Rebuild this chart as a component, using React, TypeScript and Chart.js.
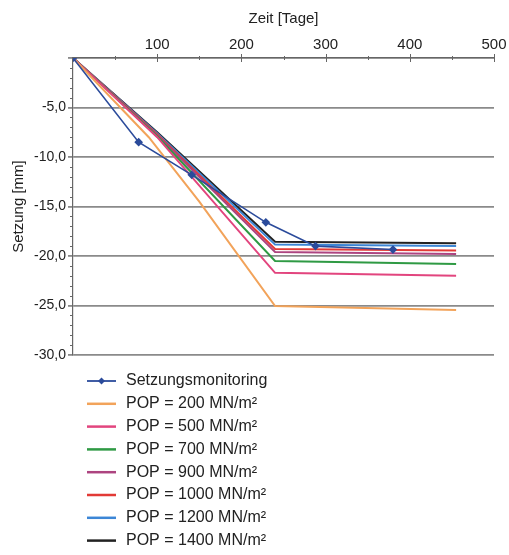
import React, { useEffect, useRef } from "react";
import { Chart, registerables } from "chart.js";

Chart.register(...registerables);

// ---- data ----
const monitoringDays = [0, 78, 141, 229, 288, 380];
const monitoringValues = [0, -8.5, -11.8, -16.6, -19.0, -19.35];

const modelLabels = [
  "POP = 200 MN/m²",
  "POP = 500 MN/m²",
  "POP = 700 MN/m²",
  "POP = 900 MN/m²",
  "POP = 1000 MN/m²",
  "POP = 1200 MN/m²",
  "POP = 1400 MN/m²",
];
const modelColors = ["#f2a35a", "#e2457e", "#2f9a44", "#ad4480", "#e23a36", "#3c86d6", "#222222"];

// each model: days and settlements [mm]
const pop200Days = [0, 90, 150, 240, 455];
const pop200Values = [0, -8.0, -14.5, -25.05, -25.45];
const pop500Days = [0, 100, 240, 455];
const pop500Values = [0, -8.0, -21.7, -22.0];
const pop700Days = [0, 100, 240, 455];
const pop700Values = [0, -7.9, -20.5, -20.8];
const pop900Days = [0, 100, 240, 455];
const pop900Values = [0, -7.8, -19.6, -19.8];
const pop1000Days = [0, 100, 240, 455];
const pop1000Values = [0, -7.7, -19.3, -19.45];
const pop1200Days = [0, 100, 240, 455];
const pop1200Values = [0, -7.6, -18.85, -19.0];
const pop1400Days = [0, 100, 240, 455];
const pop1400Values = [0, -7.5, -18.55, -18.7];

const modelDays = [pop200Days, pop500Days, pop700Days, pop900Days, pop1000Days, pop1200Days, pop1400Days];
const modelValues = [pop200Values, pop500Values, pop700Values, pop900Values, pop1000Values, pop1200Values, pop1400Values];

const xTicks = [100, 200, 300, 400, 500];
const yTicks = [-5, -10, -15, -20, -25, -30];

const FONT = "'Liberation Sans', Arial, sans-serif";

const toPoints = (xs: number[], ys: number[]) => xs.map((x, i) => ({ x, y: ys[i] }));

const minorTicksPlugin = {
  id: "minorTicks",
  afterDraw(chart: any) {
    const { ctx, scales } = chart;
    const x = scales.x;
    const y = scales.y;
    ctx.save();
    ctx.strokeStyle = "#666";
    ctx.lineWidth = 1;
    for (let v = 0; v >= -30; v -= 1) {
      if (v % 5 === 0) continue;
      const py = Math.round(y.getPixelForValue(v)) + 0.5;
      ctx.beginPath();
      ctx.moveTo(x.left - 3, py);
      ctx.lineTo(x.left, py);
      ctx.stroke();
    }
    for (let d = 50; d <= 500; d += 50) {
      const px = Math.round(x.getPixelForValue(d)) + 0.5;
      const len = d % 100 === 0 ? 4 : 2;
      ctx.beginPath();
      ctx.moveTo(px, y.top - len);
      ctx.lineTo(px, y.top + len);
      ctx.stroke();
    }
    ctx.restore();
  },
};

const legendPlugin = {
  id: "customLegend",
  afterDraw(chart: any) {
    const { ctx } = chart;
    const ds = chart.data.datasets;
    const x0 = 87;
    const x1 = 116;
    const tx = 126;
    const top = 381;
    const step = 22.8;
    ctx.save();
    ctx.font = `16px ${FONT}`;
    ctx.textBaseline = "middle";
    ctx.textAlign = "left";
    ds.forEach((d: any, i: number) => {
      const yy = top + i * step;
      ctx.strokeStyle = d.borderColor;
      ctx.lineWidth = i === 0 ? 1.8 : 2.5;
      ctx.beginPath();
      ctx.moveTo(x0, yy);
      ctx.lineTo(x1, yy);
      ctx.stroke();
      if (i === 0) {
        const cx = (x0 + x1) / 2;
        ctx.fillStyle = d.borderColor;
        ctx.beginPath();
        ctx.moveTo(cx, yy - 3.5);
        ctx.lineTo(cx + 3.5, yy);
        ctx.lineTo(cx, yy + 3.5);
        ctx.lineTo(cx - 3.5, yy);
        ctx.closePath();
        ctx.fill();
      }
      ctx.fillStyle = "#222";
      ctx.fillText(d.label, tx, yy);
    });
    ctx.restore();
  },
};

export default function App() {
  const ref = useRef<HTMLCanvasElement | null>(null);

  useEffect(() => {
    if (!ref.current) return;
    const datasets: any[] = [
      {
        label: "Setzungsmonitoring",
        data: toPoints(monitoringDays, monitoringValues),
        borderColor: "#2b4b9b",
        backgroundColor: "#2b4b9b",
        borderWidth: 1.6,
        pointStyle: "rectRot",
        pointRadius: 3.2,
        tension: 0,
      },
      ...modelLabels.map((label, i) => ({
        label,
        data: toPoints(modelDays[i], modelValues[i]),
        borderColor: modelColors[i],
        backgroundColor: modelColors[i],
        borderWidth: 2,
        pointRadius: 0,
        tension: 0,
      })),
    ];

    const chart = new Chart(ref.current, {
      type: "line",
      data: { datasets },
      plugins: [minorTicksPlugin, legendPlugin],
      options: {
        animation: false,
        responsive: false,
        maintainAspectRatio: false,
        layout: { padding: { left: 0, top: 0, right: 15, bottom: 200 } },
        plugins: {
          legend: { display: false },
          tooltip: { enabled: false },
        },
        scales: {
          x: {
            type: "linear",
            position: "top",
            min: 0,
            max: 500,
            afterFit: (s: any) => {
              s.height = 58;
              s.paddingLeft = 0;
              s.paddingRight = 0;
            },
            afterBuildTicks: (s: any) => {
              s.ticks = [0, ...xTicks].map((v) => ({ value: v }));
            },
            ticks: {
              callback: (v: any) => (v === 0 ? "" : String(v)),
              font: { family: FONT, size: 15 },
              color: "#222",
              padding: 4,
              maxRotation: 0,
            },
            grid: { display: true, drawOnChartArea: false, drawTicks: false },
            border: { display: true, color: "#666", width: 1.2 },
            title: {
              display: true,
              text: "Zeit [Tage]",
              font: { family: FONT, size: 15 },
              color: "#222",
              padding: { top: 10, bottom: 2 },
            },
          },
          y: {
            type: "linear",
            min: -30,
            max: 0,
            afterFit: (s: any) => {
              s.width = 73;
            },
            afterBuildTicks: (s: any) => {
              s.ticks = [0, ...yTicks].map((v) => ({ value: v }));
            },
            ticks: {
              callback: (v: any) => (v === 0 ? "" : Number(v).toFixed(1).replace(".", ",")),
              font: { family: FONT, size: 14 },
              color: "#222",
              padding: 2,
            },
            grid: {
              color: "#8a8a8a",
              lineWidth: 1.8,
              drawTicks: true,
              tickLength: 5,
            },
            border: { display: true, color: "#666", width: 1.2 },
            title: {
              display: true,
              text: "Setzung [mm]",
              font: { family: FONT, size: 15 },
              color: "#222",
              padding: { top: 10, bottom: 0 },
            },
          },
        },
      },
    });
    return () => chart.destroy();
  }, []);

  return (
    <div style={{ position: "absolute", left: 0, top: 0, width: 509, height: 555, background: "#fff" }}>
      <canvas ref={ref} width={509} height={555} style={{ display: "block" }} />
    </div>
  );
}
